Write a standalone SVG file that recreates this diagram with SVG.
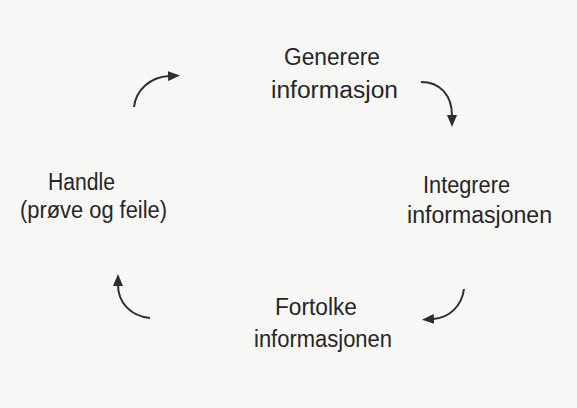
<svg xmlns="http://www.w3.org/2000/svg" width="577" height="408" viewBox="0 0 577 408">
<defs>
<marker id="ah" viewBox="0 0 12 10" refX="1" refY="5" markerWidth="12" markerHeight="10" markerUnits="userSpaceOnUse" orient="auto">
<path d="M0,0 L12,5 L0,10 z" fill="#2e2e2e"/>
</marker>
<style>
.t{font-family:"Liberation Sans",Arial,sans-serif;font-size:23px;fill:#262626}
.c{fill:none;stroke:#2e2e2e;stroke-width:2;marker-end:url(#ah)}
</style>
</defs>
<rect width="577" height="408" fill="#f7f7f5"/>
<g id="generere"><text class="t" x="284" y="65" textLength="96" lengthAdjust="spacingAndGlyphs">Generere</text><text class="t" x="271" y="98" textLength="127" lengthAdjust="spacingAndGlyphs">informasjon</text></g>
<g id="integrere"><text class="t" x="423" y="193" textLength="87" lengthAdjust="spacingAndGlyphs">Integrere</text><text class="t" x="407" y="223" textLength="145" lengthAdjust="spacingAndGlyphs">informasjonen</text></g>
<g id="fortolke"><text class="t" x="275" y="315" textLength="82" lengthAdjust="spacingAndGlyphs">Fortolke</text><text class="t" x="254" y="347" textLength="138" lengthAdjust="spacingAndGlyphs">informasjonen</text></g>
<g id="handle"><text class="t" x="48" y="190" textLength="67" lengthAdjust="spacingAndGlyphs">Handle</text><text class="t" x="20" y="218" textLength="147" lengthAdjust="spacingAndGlyphs">(prøve og feile)</text></g>
<g id="connectors">
<path class="c" d="M134,107 C136,90 150,77 169,76"/>
<path class="c" d="M421,82 C440,82 452,95 452,116"/>
<path class="c" d="M464,289 C462,305 450,318 433,319"/>
<path class="c" d="M150,318 C130,316 118,302 118,285"/>
</g>
</svg>
